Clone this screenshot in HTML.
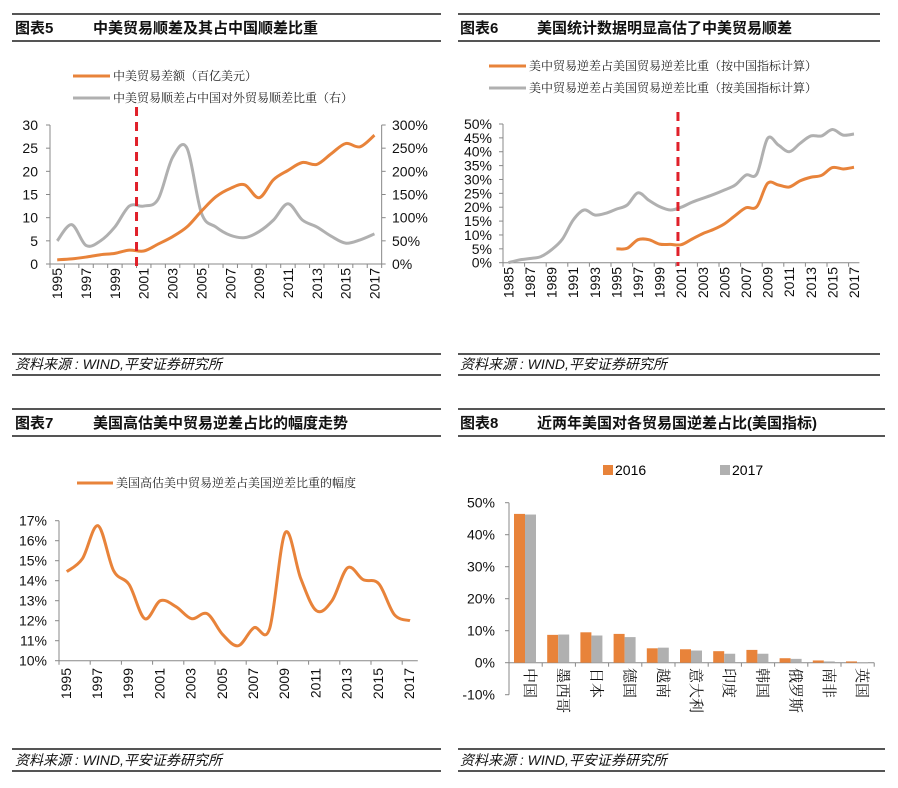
<!DOCTYPE html>
<html><head><meta charset="utf-8">
<style>
html,body{margin:0;padding:0;background:#fff;}
svg{display:block;font-family:"Liberation Sans","Noto Sans CJK SC",sans-serif;}
.t{font-size:15px;font-weight:bold;fill:#111;}
.src{font-size:14px;font-style:italic;fill:#111;}
.ax{font-size:14px;fill:#111;}
.lg{font-size:12px;fill:#222;font-family:"Liberation Serif","Noto Serif CJK SC",serif;}
</style></head>
<body>
<svg id="root" width="898" height="788" viewBox="0 0 898 788">
<g stroke="#555" stroke-width="2">
<line x1="12" y1="14" x2="441" y2="14"/><line x1="12" y1="41" x2="441" y2="41"/>
<line x1="458" y1="14" x2="880" y2="14"/><line x1="458" y1="41" x2="880" y2="41"/>
<line x1="12" y1="354" x2="441" y2="354"/><line x1="12" y1="375" x2="441" y2="375"/>
<line x1="458" y1="354" x2="880" y2="354"/><line x1="458" y1="375" x2="880" y2="375"/>
<line x1="12" y1="409" x2="441" y2="409"/><line x1="12" y1="436" x2="441" y2="436"/>
<line x1="458" y1="409" x2="885" y2="409"/><line x1="458" y1="436" x2="885" y2="436"/>
<line x1="12" y1="749" x2="441" y2="749"/><line x1="12" y1="771" x2="441" y2="771"/>
<line x1="458" y1="749" x2="885" y2="749"/><line x1="458" y1="771" x2="885" y2="771"/>
</g>
<text class="t" x="15" y="33">图表5<tspan x="93">中美贸易顺差及其占中国顺差比重</tspan></text>
<text class="t" x="460" y="33">图表6<tspan x="537">美国统计数据明显高估了中美贸易顺差</tspan></text>
<text class="t" x="15" y="428">图表7<tspan x="93">美国高估美中贸易逆差占比的幅度走势</tspan></text>
<text class="t" x="460" y="428">图表8<tspan x="537">近两年美国对各贸易国逆差占比(美国指标)</tspan></text>
<text class="src" x="15" y="369">资料来源 : WIND,平安证券研究所</text>
<text class="src" x="460" y="369">资料来源 : WIND,平安证券研究所</text>
<text class="src" x="15" y="765">资料来源 : WIND,平安证券研究所</text>
<text class="src" x="460" y="765">资料来源 : WIND,平安证券研究所</text>

<line x1="73" y1="76" x2="110" y2="76" stroke="#E8833A" stroke-width="3"/>
<text class="lg" x="113" y="80">中美贸易差额（百亿美元）</text>
<line x1="73" y1="98" x2="110" y2="98" stroke="#B0B0B0" stroke-width="3"/>
<text class="lg" x="113" y="102">中美贸易顺差占中国对外贸易顺差比重（右）</text>
<line x1="489" y1="66" x2="526" y2="66" stroke="#E8833A" stroke-width="3"/>
<text class="lg" x="529" y="70">美中贸易逆差占美国贸易逆差比重（按中国指标计算）</text>
<line x1="489" y1="88" x2="526" y2="88" stroke="#B0B0B0" stroke-width="3"/>
<text class="lg" x="529" y="92">美中贸易逆差占美国贸易逆差比重（按美国指标计算）</text>
<line x1="77" y1="483" x2="113" y2="483" stroke="#E8833A" stroke-width="3"/>
<text class="lg" x="116" y="487">美国高估美中贸易逆差占美国逆差比重的幅度</text>
<rect x="603" y="465" width="10" height="10" fill="#E8833A"/>
<text x="615" y="475" font-size="14">2016</text>
<rect x="720" y="465" width="10" height="10" fill="#B0B0B0"/>
<text x="732" y="475" font-size="14">2017</text>
<g id="charts"></g>
</svg>
<script>
// ---- chart 5 data ----
const c5Years = [1995,1996,1997,1998,1999,2000,2001,2002,2003,2004,2005,2006,2007,2008,2009,2010,2011,2012,2013,2014,2015,2016,2017];
const c5Surplus = [0.9,1.1,1.5,2.0,2.3,3.0,2.8,4.3,5.9,8.0,11.4,14.5,16.3,17.1,14.3,18.2,20.2,21.9,21.5,23.8,26.0,25.3,27.8];
const c5Share = [50,85,40,50,80,125,125,140,230,250,110,80,62,57,70,95,130,95,80,60,45,52,65];
const c5LeftTicks = [0,5,10,15,20,25,30];
const c5RightTicks = [0,50,100,150,200,250,300];
// ---- chart 6 data ----
const c6Years = [];
for (let y = 1985; y <= 2017; y++) c6Years.push(y);
const c6US = [0,1,1.5,2.2,4.7,8.5,15.4,19,17.2,17.8,19.3,20.8,25.2,22.5,20.2,19,20,21.8,23.2,24.6,26.2,28,31.6,32,44.8,42.4,40,43,45.7,45.7,48,46,46.4];
const c6CNYears = [1995,1996,1997,1998,1999,2000,2001,2002,2003,2004,2005,2006,2007,2008,2009,2010,2011,2012,2013,2014,2015,2016,2017];
const c6CN = [5,5.2,8.3,8.3,6.7,6.6,6.5,8.5,10.5,12,14,17,19.8,20.2,28.6,28,27.3,29.5,30.8,31.5,34.3,33.8,34.4];
const c6Ticks = [0,5,10,15,20,25,30,35,40,45,50];
// ---- chart 7 data ----
const c7Years = c5Years.slice();
const c7Values = [14.45,15.1,16.75,14.5,13.8,12.1,13.0,12.7,12.1,12.35,11.3,10.75,11.65,11.6,16.4,14.1,12.5,13.0,14.65,14.05,13.85,12.3,12.0];
const c7Ticks = [10,11,12,13,14,15,16,17];
// ---- chart 8 data ----
const c8Countries = ['中国','墨西哥','日本','德国','越南','意大利','印度','韩国','俄罗斯','南非','英国'];
const c8v2016 = [46.5,8.7,9.5,9.0,4.5,4.2,3.6,4.0,1.4,0.7,0.4];
const c8v2017 = [46.3,8.8,8.5,8.0,4.7,3.8,2.8,2.8,1.2,0.4,-0.2];
const c8Ticks = [-10,0,10,20,30,40,50];

const NS = 'http://www.w3.org/2000/svg';
const root = document.getElementById('charts');
function mk(tag, attrs, parent) {
  const e = document.createElementNS(NS, tag);
  for (const k in attrs) e.setAttribute(k, attrs[k]);
  (parent || root).appendChild(e);
  return e;
}
function smooth(pts) {
  let d = 'M' + pts[0][0] + ',' + pts[0][1];
  for (let i = 0; i < pts.length - 1; i++) {
    const p0 = pts[i - 1] || pts[i], p1 = pts[i], p2 = pts[i + 1], p3 = pts[i + 2] || p2;
    const t = 6;
    d += ' C' + (p1[0] + (p2[0] - p0[0]) / t) + ',' + (p1[1] + (p2[1] - p0[1]) / t) + ' ' +
      (p2[0] - (p3[0] - p1[0]) / t) + ',' + (p2[1] - (p3[1] - p1[1]) / t) + ' ' + p2[0] + ',' + p2[1];
  }
  return d;
}
function yearLabel(x, yTop, txt) {
  const t = mk('text', {x: x + 5, y: yTop, transform: 'rotate(-90 ' + (x + 5) + ' ' + yTop + ')', 'text-anchor': 'end', class: 'ax'});
  t.textContent = txt;
  
  
}
const AX = '#888';

// ===== chart 5 =====
(function () {
  const x0 = 50, step = 14.42, yb = 264, yt = 125;
  const xc = i => x0 + step * (i + 0.5);
  const yL = v => yb - (v / 30) * (yb - yt);
  const yR = v => yb - (v / 300) * (yb - yt);
  mk('line', {x1: x0, y1: yt, x2: x0, y2: yb, stroke: AX});
  mk('line', {x1: x0, y1: yb, x2: x0 + step * c5Years.length, y2: yb, stroke: AX});
  mk('line', {x1: x0 + step * c5Years.length, y1: yt, x2: x0 + step * c5Years.length, y2: yb, stroke: AX});
  c5LeftTicks.forEach(v => {
    mk('line', {x1: x0 - 4, y1: yL(v), x2: x0, y2: yL(v), stroke: AX});
    const t = mk('text', {x: 38, y: yL(v) + 5, 'text-anchor': 'end', class: 'ax'}); t.textContent = v;
    
    
  });
  c5RightTicks.forEach(v => {
    const xr = x0 + step * c5Years.length;
    mk('line', {x1: xr, y1: yR(v), x2: xr + 4, y2: yR(v), stroke: AX});
    const t = mk('text', {x: 392, y: yR(v) + 5, class: 'ax'}); t.textContent = v + '%';
    
    
  });
  for (let i = 0; i <= c5Years.length; i++) mk('line', {x1: x0 + step * i, y1: yb, x2: x0 + step * i, y2: yb + 4, stroke: AX});
  c5Years.forEach((y, i) => { if (i % 2 === 0) yearLabel(xc(i), 268, y); });
  const g = mk('path', {d: smooth(c5Share.map((v, i) => [xc(i), yR(v)])), fill: 'none', stroke: '#B0B0B0', 'stroke-width': 3});
  
  
  const o = mk('path', {d: smooth(c5Surplus.map((v, i) => [xc(i), yL(v)])), fill: 'none', stroke: '#E8833A', 'stroke-width': 3});
  
  
  const r = mk('line', {x1: x0 + step * 6, y1: 107, x2: x0 + step * 6, y2: 266, stroke: '#E0202A', 'stroke-width': 3, 'stroke-dasharray': '9,6'});
  
  
})();

// ===== chart 6 =====
(function () {
  const x0 = 503, step = 10.8, yb = 262.7, yt = 124;
  const xy = yr => x0 + step * (yr - 1985 + 0.5);
  const yv = v => yb - (v / 50) * (yb - yt);
  const xEnd = x0 + step * c6Years.length;
  mk('line', {x1: x0, y1: yt, x2: x0, y2: yb, stroke: AX});
  mk('line', {x1: x0, y1: yb, x2: xEnd, y2: yb, stroke: AX});
  c6Ticks.forEach(v => {
    mk('line', {x1: x0 - 4, y1: yv(v), x2: x0, y2: yv(v), stroke: AX});
    const t = mk('text', {x: 492, y: yv(v) + 5, 'text-anchor': 'end', class: 'ax'}); t.textContent = v + '%';
    
    
  });
  for (let i = 0; i <= c6Years.length; i += 2) mk('line', {x1: x0 + step * i, y1: yb, x2: x0 + step * i, y2: yb + 4, stroke: AX});
  c6Years.forEach((y, i) => { if (i % 2 === 0) yearLabel(xy(y), 267, y); });
  const g = mk('path', {d: smooth(c6US.map((v, i) => [xy(c6Years[i]), yv(v)])), fill: 'none', stroke: '#B0B0B0', 'stroke-width': 3});
  
  
  const o = mk('path', {d: smooth(c6CN.map((v, i) => [xy(c6CNYears[i]), yv(v)])), fill: 'none', stroke: '#E8833A', 'stroke-width': 3});
  
  
  const r = mk('line', {x1: xy(2000.7), y1: 112, x2: xy(2000.7), y2: 266, stroke: '#E0202A', 'stroke-width': 3, 'stroke-dasharray': '9,6'});
  
  
})();

// ===== chart 7 =====
(function () {
  const x0 = 59, step = 15.6, yb = 660.7, yt = 520.7;
  const xc = i => x0 + step * (i + 0.5);
  const yv = v => yb - ((v - 10) / 7) * (yb - yt);
  const xEnd = x0 + step * c7Years.length;
  mk('line', {x1: x0, y1: yt, x2: x0, y2: yb, stroke: AX});
  mk('line', {x1: x0, y1: yb, x2: xEnd, y2: yb, stroke: AX});
  c7Ticks.forEach(v => {
    mk('line', {x1: x0 - 4, y1: yv(v), x2: x0, y2: yv(v), stroke: AX});
    const t = mk('text', {x: 47, y: yv(v) + 5, 'text-anchor': 'end', class: 'ax'}); t.textContent = v + '%';
    
    
  });
  for (let i = 0; i <= c7Years.length; i += 2) mk('line', {x1: x0 + step * i, y1: yb, x2: x0 + step * i, y2: yb + 4, stroke: AX});
  c7Years.forEach((y, i) => { if (i % 2 === 0) yearLabel(xc(i) - 1, 668, y); });
  const o = mk('path', {d: smooth(c7Values.map((v, i) => [xc(i), yv(v)])), fill: 'none', stroke: '#E8833A', 'stroke-width': 3});
  
  
})();

// ===== chart 8 =====
(function () {
  const x0 = 509, step = 33.2, y0 = 662.7, scale = 3.2;
  const yv = v => y0 - v * scale;
  const xEnd = x0 + step * c8Countries.length;
  mk('line', {x1: x0, y1: yv(50), x2: x0, y2: yv(-10), stroke: AX});
  mk('line', {x1: x0, y1: y0, x2: xEnd, y2: y0, stroke: AX});
  c8Ticks.forEach(v => {
    mk('line', {x1: x0 - 4, y1: yv(v), x2: x0, y2: yv(v), stroke: AX});
    const t = mk('text', {x: 495, y: yv(v) + 5, 'text-anchor': 'end', class: 'ax'}); t.textContent = v + '%';
    
    
  });
  for (let i = 0; i <= c8Countries.length; i++) mk('line', {x1: x0 + step * i, y1: y0, x2: x0 + step * i, y2: y0 + 4, stroke: AX});
  c8Countries.forEach((c, i) => {
    const xs = x0 + step * i + 5;
    const a = c8v2016[i], b = c8v2017[i];
    const r1 = mk('rect', {x: xs, y: Math.min(yv(a), y0), width: 11, height: Math.abs(a * scale), fill: '#E8833A'});
    
    
    const r2 = mk('rect', {x: xs + 11, y: Math.min(yv(b), y0), width: 11, height: Math.abs(b * scale), fill: '#B0B0B0'});
    
    
    const t = mk('text', {x: xs + 11, y: 668, style: 'writing-mode:vertical-rl;text-orientation:sideways;font-size:15px;font-family:"Liberation Serif","Noto Serif CJK SC",serif', fill: '#111'});
    t.textContent = c;
    
    
  });
})();
</script>
</body></html>
